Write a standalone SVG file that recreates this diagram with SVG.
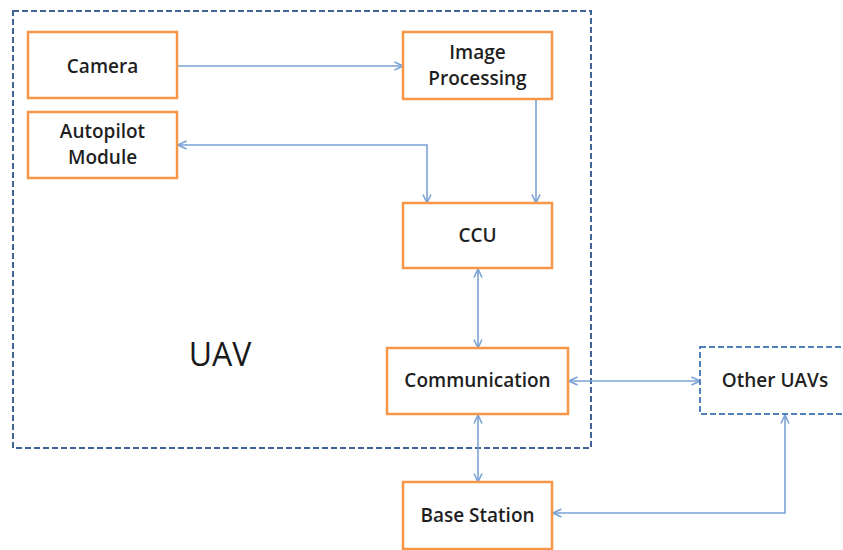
<svg xmlns="http://www.w3.org/2000/svg" width="843" height="550" viewBox="0 0 843 550">
  <style>
    .node { fill: #ffffff; stroke: #F79646; stroke-width: 2.5; }
    .label { font-family: "Open Sans", "Liberation Sans", sans-serif; font-size: 19px; font-weight: 600; fill: #1f1f1f; text-anchor: middle; }
    .link { fill: none; stroke: #7BA3D6; stroke-width: 1.6; }
    .group { fill: none; stroke: #3E6497; stroke-width: 2; stroke-dasharray: 6 3; }
    .ext { fill: #ffffff; stroke: #4F81BD; stroke-width: 2; stroke-dasharray: 6 3; }
  </style>
  <defs>
    <marker id="arrow" viewBox="0 0 10 10" refX="9.5" refY="5" markerWidth="10" markerHeight="10" markerUnits="userSpaceOnUse" orient="auto-start-reverse">
      <path d="M1,1 L9.5,5 L1,9" fill="none" stroke="#7BA3D6" stroke-width="1.6"/>
    </marker>
  </defs>

  <rect width="843" height="550" fill="#ffffff"/>

  <!-- UAV boundary -->
  <g id="uav">
    <rect class="group" x="13" y="11" width="578" height="437"/>
    <text x="220" y="366" font-family="'Open Sans', 'Liberation Sans', sans-serif" font-size="32" fill="#1a1a1a" text-anchor="middle">UAV</text>
  </g>

  <!-- connectors -->
  <g id="connectors">
    <path class="link" d="M177,66 H403" marker-end="url(#arrow)"/>
    <path class="link" d="M178,145 H427 V203" marker-start="url(#arrow)" marker-end="url(#arrow)"/>
    <path class="link" d="M536,99 V203" marker-end="url(#arrow)"/>
    <path class="link" d="M478,269 V348" marker-start="url(#arrow)" marker-end="url(#arrow)"/>
    <path class="link" d="M569,381 H700" marker-start="url(#arrow)" marker-end="url(#arrow)"/>
    <path class="link" d="M478,415 V482" marker-start="url(#arrow)" marker-end="url(#arrow)"/>
    <path class="link" d="M553,513 H785 V415" marker-start="url(#arrow)" marker-end="url(#arrow)"/>
  </g>

  <g id="camera">
    <rect class="node" x="28" y="32" width="149" height="66"/>
    <text class="label" x="102.5" y="73">Camera</text>
  </g>
  <g id="autopilot">
    <rect class="node" x="28" y="112" width="149" height="66"/>
    <text class="label" x="102.5" y="138">Autopilot</text>
    <text class="label" x="102.5" y="164">Module</text>
  </g>
  <g id="image-processing">
    <rect class="node" x="403" y="32" width="149" height="67"/>
    <text class="label" x="477.5" y="59">Image</text>
    <text class="label" x="477.5" y="85">Processing</text>
  </g>
  <g id="ccu">
    <rect class="node" x="403" y="203" width="149" height="65"/>
    <text class="label" x="477.5" y="242">CCU</text>
  </g>
  <g id="communication">
    <rect class="node" x="387" y="348" width="181" height="66"/>
    <text class="label" x="477.5" y="387">Communication</text>
  </g>
  <g id="base-station">
    <rect class="node" x="403" y="482" width="149" height="67"/>
    <text class="label" x="477.5" y="522">Base Station</text>
  </g>
  <g id="other-uavs">
    <rect class="ext" x="700" y="347" width="150" height="67"/>
    <text class="label" x="775" y="387">Other UAVs</text>
  </g>
</svg>
